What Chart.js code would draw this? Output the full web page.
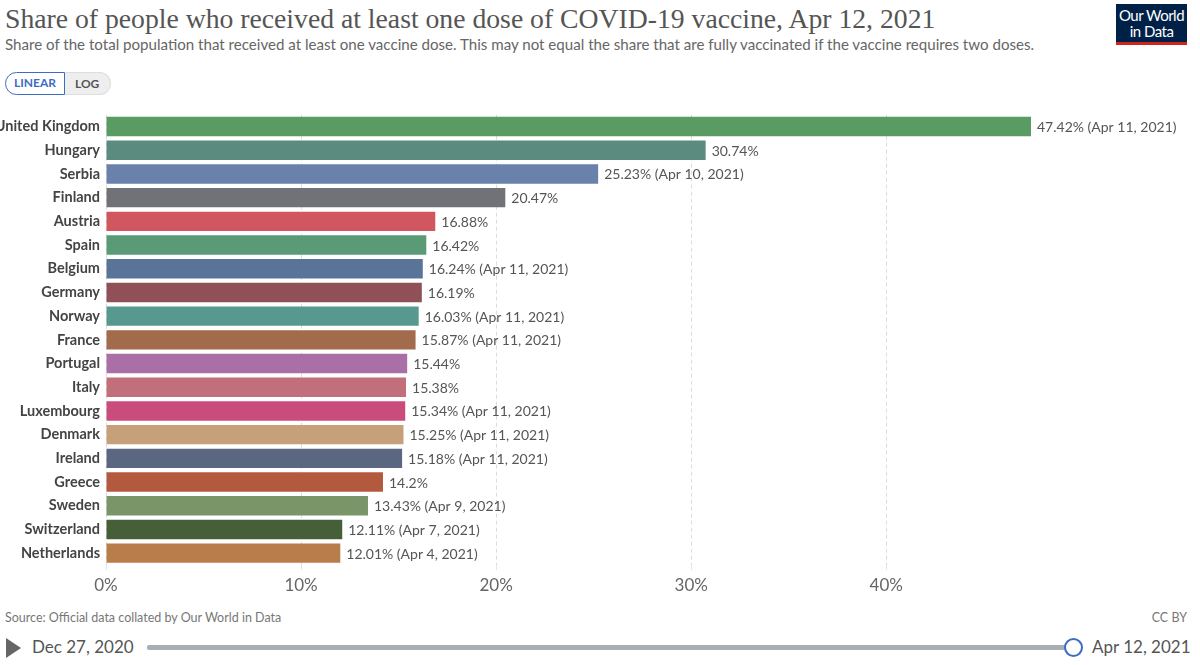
<!DOCTYPE html>
<html>
<head>
<meta charset="utf-8">
<script src="https://cdn.jsdelivr.net/npm/chart.js@4.4.1/dist/chart.umd.min.js"></script>
<style>
  html, body { margin: 0; padding: 0; background: #fff; }
  body { width: 1200px; height: 665px; position: relative; overflow: hidden; font-family: Lato, sans-serif; }
  .title { position: absolute; left: 5px; top: 3px; font-family: "Liberation Serif", serif; font-size: 27.7px; color: #555; white-space: nowrap; }
  .subtitle { position: absolute; left: 5px; top: 35px; font-size: 15.1px; color: #666; white-space: nowrap; }
  .logo { position: absolute; left: 1116px; top: 4px; width: 71px; height: 41px; background: #002147; color: #fff; text-align: center; font-size: 15px; line-height: 16px; box-sizing: border-box; padding-top: 3px; border-bottom: 3px solid #ce261e; letter-spacing: -0.5px; }
  .toggle { position: absolute; left: 5px; top: 72px; height: 23px; display: flex; font-size: 12px; font-weight: bold; }
  .toggle .on { border: 1.5px solid #3d6dc2; color: #3d6dc2; background: #fff; border-radius: 12px 0 0 12px; padding: 0 8px; line-height: 20px; }
  .toggle .off { border: 1px solid #ddd; border-left: none; color: #555; background: #eee; border-radius: 0 12px 12px 0; padding: 0 11px 0 10px; line-height: 21px; }
  #wrap { position: absolute; left: 0; top: 100px; width: 1200px; height: 501px; }
  .source { position: absolute; left: 5px; top: 610px; font-size: 12.5px; color: #777; }
  .cc { position: absolute; right: 13px; top: 610px; font-size: 12.5px; color: #777; }
  .play { position: absolute; left: 6px; top: 638px; width: 0; height: 0; border-top: 10px solid transparent; border-bottom: 10px solid transparent; border-left: 15px solid #666; }
  .d1 { position: absolute; left: 32px; top: 636px; font-size: 17px; color: #555; }
  .track { position: absolute; left: 147px; top: 645px; width: 924px; height: 5px; background: #a9aeb4; border-radius: 2px; }
  .knob { position: absolute; left: 1064px; top: 638px; width: 15px; height: 15px; border: 2px solid #3d6dc2; border-radius: 50%; background: #fff; }
  .d2 { position: absolute; left: 1092px; top: 636px; font-size: 17px; color: #555; }
</style>
</head>
<body>
<div class="title">Share of people who received at least one dose of COVID-19 vaccine, Apr 12, 2021</div>
<div class="subtitle">Share of the total population that received at least one vaccine dose. This may not equal the share that are fully vaccinated if the vaccine requires two doses.</div>
<div class="logo">Our World<br>in Data</div>
<div class="toggle"><div class="on">LINEAR</div><div class="off">LOG</div></div>
<div id="wrap"><canvas id="chart"></canvas></div>
<div class="source">Source: Official data collated by Our World in Data</div>
<div class="cc">CC BY</div>
<div class="play"></div>
<div class="d1">Dec 27, 2020</div>
<div class="track"></div>
<div class="knob"></div>
<div class="d2">Apr 12, 2021</div>

<script>
// Data
const countries = ['United Kingdom', 'Hungary', 'Serbia', 'Finland', 'Austria', 'Spain', 'Belgium', 'Germany', 'Norway', 'France',
  'Portugal', 'Italy', 'Luxembourg', 'Denmark', 'Ireland', 'Greece', 'Sweden', 'Switzerland', 'Netherlands'];
const shares = [47.42, 30.74, 25.23, 20.47, 16.88, 16.42, 16.24, 16.19, 16.03, 15.87,
  15.44, 15.38, 15.34, 15.25, 15.18, 14.2, 13.43, 12.11, 12.01];
const dateNotes = ['Apr 11, 2021', '', 'Apr 10, 2021', '', '', '', 'Apr 11, 2021', '', 'Apr 11, 2021', 'Apr 11, 2021',
  '', '', 'Apr 11, 2021', 'Apr 11, 2021', 'Apr 11, 2021', '', 'Apr 9, 2021', 'Apr 7, 2021', 'Apr 4, 2021'];
const barColors = ['#5a9a63', '#5b8b7e', '#6a82ab', '#707278', '#d0575f', '#5a9a76', '#5a7499', '#8f5157', '#58998f', '#a16b4c',
  '#a96fa6', '#c16f7b', '#c94c7d', '#c6a07a', '#5b6680', '#b35a3e', '#7a9568', '#465f38', '#b87d4b'];
const xTicks = [0, 10, 20, 30, 40];

// value labels at the end of each bar
const valueLabels = {
  id: 'valueLabels',
  afterDatasetsDraw(chart) {
    const ctx = chart.ctx;
    const meta = chart.getDatasetMeta(0);
    ctx.save();
    ctx.font = '14px Lato';
    ctx.fillStyle = '#555';
    ctx.textBaseline = 'middle';
    ctx.textAlign = 'left';
    meta.data.forEach((bar, i) => {
      let txt = shares[i] + '%';
      if (dateNotes[i]) txt += ' (' + dateNotes[i] + ')';
      ctx.fillText(txt, bar.x + 6, bar.y + 1);
    });
    ctx.restore();
  }
};

new Chart(document.getElementById('chart'), {
  type: 'bar',
  data: {
    labels: countries,
    datasets: [{
      data: shares,
      backgroundColor: barColors,
      borderWidth: 0,
      categoryPercentage: 1,
      barPercentage: 0.82
    }]
  },
  options: {
    indexAxis: 'y',
    responsive: true,
    maintainAspectRatio: false,
    animation: false,
    layout: { padding: { top: 5, right: 169, bottom: 0, left: 0 } },
    plugins: {
      legend: { display: false },
      tooltip: { enabled: false }
    },
    scales: {
      x: {
        min: 0,
        max: 47.42,
        afterBuildTicks: scale => { scale.ticks = xTicks.map(v => ({ value: v })); },
        afterFit: scale => { scale.height = 36; },
        grid: { color: '#dcdcdc', drawTicks: true, tickLength: 5, tickColor: '#e6e6e6' },
        border: { display: false, dash: [4, 3] },
        ticks: {
          padding: 5,
          color: '#666',
          font: { family: 'Lato', size: 17 },
          callback: v => v + '%'
        }
      },
      y: {
        afterFit: scale => { scale.width = 106; },
        grid: { display: false, drawTicks: false },
        border: { display: false },
        ticks: {
          padding: 6,
          color: '#444',
          autoSkip: false,
          font: { family: 'Lato', size: 14.5, weight: 'bold' }
        }
      }
    }
  },
  plugins: [valueLabels]
});
</script>
</body>
</html>
